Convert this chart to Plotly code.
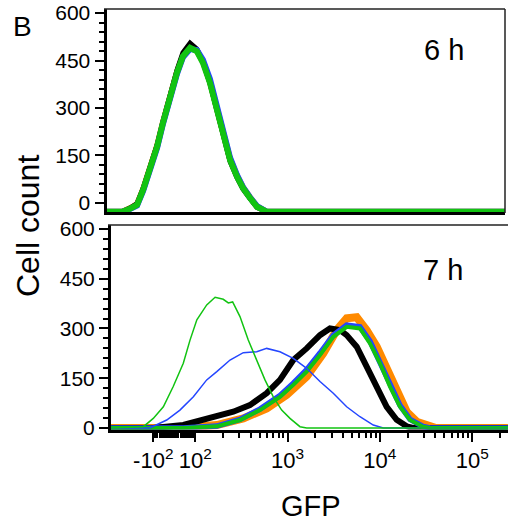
import math
import plotly.graph_objects as go

W, H = 508, 525

# ---------------- data ----------------
# 6 h panel (counts read against the panel's printed axis)
gfp_6h = [-340, -218, -179, -150, -129, -109, -82, -54, -20, 13, 41, 75, 104, 121,
          144, 172, 200, 238, 283, 329, 391, 466, 598, 250000]
black_6h = [-28, -28, -16, -2, 46, 110, 183, 258, 345, 420, 475, 505, 486, 446, 378,
            290, 205, 131, 80, 44, 14, -14, -28, -28]
orange_6h = [-28, -28, -17, -4, 43, 107, 180, 255, 340, 414, 465, 492, 481, 446, 384,
             298, 214, 139, 86, 49, 18, -11, -28, -28]
blue_6h = [-28, -28, -19, -8, 38, 100, 174, 250, 333, 408, 460, 486, 483, 452, 392,
           306, 220, 143, 88, 50, 18, -10, -28, -28]
green_6h = [-28, -28, -18, -6, 41, 104, 178, 253, 337, 412, 463, 490, 479, 443, 380,
            295, 210, 136, 83, 47, 16, -12, -28, -28]

# 7 h panel
gfp_7h_thin_green = [-310, -128, -100, -52, -5, 43, 75, 104, 133, 164, 201, 228, 254,
                     305, 375, 463, 569, 700, 863, 1062, 1362, 1610, 244000]
thin_green_7h = [0, 4, 29, 64, 125, 195, 265, 326, 371, 394, 388, 377, 380, 336, 265,
                 205, 145, 94, 54, 29, 4, 0, 0]

gfp_7h_thin_blue = [-310, -109, -36, 27, 91, 133, 171, 238, 331, 463, 594, 827, 1153,
                    1610, 2244, 3127, 4368, 6085, 8484, 10885, 244000]
thin_blue_7h = [0, 0, 24, 54, 94, 145, 170, 205, 227, 230, 240, 230, 210, 180, 140,
                105, 64, 34, 9, 0, 0]

gfp_7h_black = [-310, -100, 43, 144, 258, 391, 594, 827, 1153, 1610, 2244, 2879, 3696,
                4368, 5607, 7194, 9234, 11851, 15205, 19516, 22840, 244000]
black_7h = [0, 0, 9, 29, 49, 69, 105, 145, 205, 240, 280, 300, 295, 280, 245, 185, 125,
            64, 25, 5, 0, 0]

gfp_7h_orange = [-310, 43, 171, 331, 594, 978, 1610, 2437, 3404, 4368, 5607, 7194, 9234,
                 11851, 15205, 19516, 25040, 34899, 40530, 244000]
orange_7h = [0, 0, 9, 29, 59, 100, 155, 225, 295, 331, 334, 295, 245, 175, 105, 49, 19,
             4, 0, 0]

gfp_7h_thick = [-310, 43, 171, 305, 502, 827, 1153, 1610, 2244, 3127, 4368, 6085, 7811,
                10025, 12868, 16513, 21191, 29309, 34899, 244000]
blue_7h = [0, 0, 6, 26, 57, 98, 135, 176, 226, 280, 310, 305, 262, 200, 130, 68, 26, 5,
           0, 0]
green_7h = [0, 0, 5, 24, 54, 94, 130, 170, 220, 275, 305, 300, 255, 195, 125, 64, 24, 4,
            0, 0]

x_major = [-100, 100, 1000, 10000, 100000]
x_major_text = ["-10<sup>2</sup>", "10<sup>2</sup>", "10<sup>3</sup>",
                "10<sup>4</sup>", "10<sup>5</sup>"]
x_minor = (list(range(-90, 100, 10)) + [200, 300, 400, 500, 600, 700, 800, 900]
           + [2000, 3000, 4000, 5000, 6000, 7000, 8000, 9000]
           + [20000, 30000, 40000, 50000, 60000, 70000, 80000, 90000, 200000])
y_major = [0, 150, 300, 450, 600]

BLACK = "#000000"
ORANGE = "#ff8a00"
BLUE = "#2446ff"
GREEN = "#12c312"
FONT = "Liberation Sans, Arial, sans-serif"


# biexponential-like display transform (linear around zero, log beyond +/-100)
def disp(v):
    if v >= 100:
        return math.log10(v)
    if v <= -100:
        return 1.545 - math.log10(-v / 100)
    return 1.7725 + 0.2275 * v / 100


def dlist(vals):
    return [disp(v) for v in vals]


fig = go.Figure()

# 6 h
for ys, col, w in [(orange_6h, ORANGE, 6), (black_6h, BLACK, 5),
                   (blue_6h, BLUE, 6), (green_6h, GREEN, 6)]:
    fig.add_trace(go.Scatter(x=dlist(gfp_6h), y=ys, mode="lines",
                             line=dict(color=col, width=w), xaxis="x", yaxis="y",
                             hoverinfo="skip"))

# 7 h thick
for xs, ys, col, w in [(gfp_7h_orange, orange_7h, ORANGE, 8),
                       (gfp_7h_black, black_7h, BLACK, 6),
                       (gfp_7h_thick, blue_7h, BLUE, 5.5),
                       (gfp_7h_thick, green_7h, GREEN, 4)]:
    fig.add_trace(go.Scatter(x=dlist(xs), y=ys, mode="lines",
                             line=dict(color=col, width=w), xaxis="x2", yaxis="y2",
                             hoverinfo="skip"))
# 7 h thin
for xs, ys, col in [(gfp_7h_thin_blue, thin_blue_7h, BLUE),
                    (gfp_7h_thin_green, thin_green_7h, GREEN)]:
    fig.add_trace(go.Scatter(x=dlist(xs), y=ys, mode="lines",
                             line=dict(color=col, width=1.5), xaxis="x2", yaxis="y2",
                             hoverinfo="skip"))


def px(p):
    return p / W


def py(p):
    return 1 - p / H


yax = dict(tickmode="array", tickvals=y_major, ticks="outside", ticklen=9, tickwidth=2,
           tickcolor="black", showline=True, linewidth=3, linecolor="black",
           showgrid=False, zeroline=False, automargin=False,
           tickfont=dict(family=FONT, size=21, color="black"),
           minor=dict(tickmode="linear", tick0=0, dtick=30, ticks="outside", ticklen=5,
                      tickwidth=2, tickcolor="black"))


def label(text, x, y, size, angle=0):
    return dict(text=text, x=px(x), y=py(y), xref="paper", yref="paper",
                xanchor="center", yanchor="middle", showarrow=False, textangle=angle,
                font=dict(family=FONT, size=size, color="black"))


fig.update_layout(
    width=W, height=H, margin=dict(l=0, r=0, t=0, b=0, pad=0, autoexpand=False),
    paper_bgcolor="white", plot_bgcolor="white", showlegend=False,
    xaxis=dict(domain=[px(106.5), px(505)], range=[1.038, 5.355], anchor="y",
               showline=True, linewidth=2.5, linecolor="black", showgrid=False,
               zeroline=False, showticklabels=False, ticks="", automargin=False),
    yaxis=dict(domain=[py(212), py(9)], range=[-28.5, 612.7], anchor="x", **yax),
    xaxis2=dict(domain=[px(111), 1.0], range=[1.087, 5.388], anchor="y2",
                showline=True, linewidth=3, linecolor="black", showgrid=False,
                zeroline=False, automargin=False, tickmode="array",
                tickvals=dlist(x_major),
                ticktext=x_major_text, ticks="outside", ticklen=9, tickwidth=2,
                tickcolor="black",
                tickfont=dict(family=FONT, size=22, color="black"),
                minor=dict(tickmode="array", tickvals=dlist(x_minor), ticks="outside",
                           ticklen=5, tickwidth=1.5, tickcolor="black")),
    yaxis2=dict(domain=[py(429.5), py(225)], range=[-4.5, 612], anchor="x2", **yax),
    shapes=[
        dict(type="line", xref="paper", yref="paper", x0=px(104), x1=px(505),
             y0=py(9), y1=py(9), line=dict(color="#222", width=1.5)),
        dict(type="line", xref="paper", yref="paper", x0=px(505), x1=px(505),
             y0=py(9), y1=py(213), line=dict(color="#222", width=1.5)),
        dict(type="line", xref="paper", yref="paper", x0=px(108), x1=1.0,
             y0=py(225), y1=py(225), line=dict(color="#222", width=1.5)),
    ],
    annotations=[
        label("B", 22, 26, 28),
        label("6 h", 444, 50, 29),
        label("7 h", 443, 270, 29),
        label("Cell count", 28, 226, 32, -90),
        label("GFP", 311, 506, 29),
    ],
)

fig.write_html("out.html")
